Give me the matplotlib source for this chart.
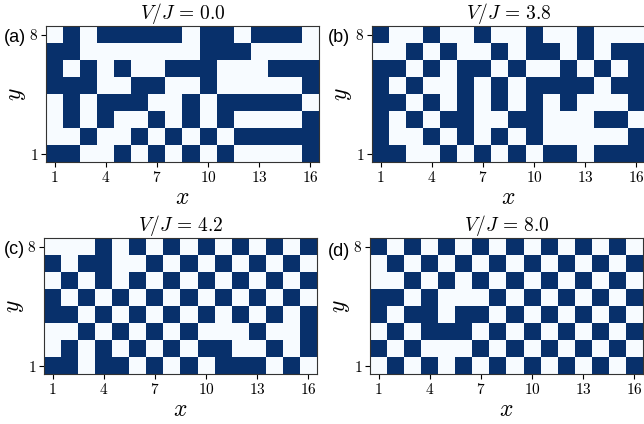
import numpy as np
import matplotlib
matplotlib.use("Agg")
import matplotlib.pyplot as plt
from matplotlib.ticker import FixedLocator, FixedFormatter

plt.rcParams['mathtext.fontset'] = 'cm'

titles = [r"$V/J\, =\, 0.0$", r"$V/J\, =\, 3.8$", r"$V/J\, =\, 4.2$", r"$V/J\, =\, 8.0$"]
panel_labels = ["(a)", "(b)", "(c)", "(d)"]

# rows listed from y=8 (top) down to y=1 (bottom); 1 = occupied (dark)
grid_a = [
    [0,1,0,1,1,1,1,1,0,1,1,0,1,1,1,0],
    [1,1,0,0,0,0,0,0,0,1,1,1,0,0,0,0],
    [1,0,1,0,1,0,0,1,1,1,0,0,0,1,1,1],
    [1,1,1,0,0,1,1,0,0,1,0,0,0,0,0,1],
    [0,1,0,1,1,1,0,0,1,0,1,1,1,1,1,0],
    [0,1,0,1,0,0,1,0,1,0,1,0,0,0,0,1],
    [0,0,1,0,0,1,0,1,0,1,0,1,1,1,1,1],
    [1,1,0,0,1,0,1,0,1,0,1,0,0,0,0,1],
]
grid_b = [
    [1,0,0,1,0,0,1,0,0,1,0,0,1,0,0,0],
    [0,0,1,0,1,0,0,1,0,1,1,0,1,0,1,1],
    [1,1,0,1,0,1,1,0,1,0,0,1,0,1,0,1],
    [1,0,1,0,0,1,0,1,0,1,1,1,1,0,1,1],
    [1,1,0,1,0,1,0,1,0,1,0,1,0,0,0,1],
    [1,0,1,0,1,1,0,0,1,1,0,0,0,1,1,0],
    [1,0,0,1,0,1,0,1,0,1,0,0,0,0,0,1],
    [1,1,0,0,1,0,1,0,1,0,1,1,0,1,1,1],
]
grid_c = [
    [0,0,0,1,0,1,0,1,0,1,0,1,0,1,0,1],
    [1,0,1,1,0,0,1,0,1,0,1,0,1,0,1,0],
    [0,1,0,1,0,1,0,1,0,1,0,1,0,1,0,1],
    [1,0,1,0,1,0,1,0,1,0,1,0,1,0,1,0],
    [1,1,0,1,0,1,0,1,0,1,0,1,0,1,0,1],
    [0,0,1,0,1,0,1,0,1,0,0,0,1,0,0,1],
    [0,1,0,1,0,1,0,1,0,1,1,0,0,1,0,1],
    [1,1,0,1,1,0,1,0,1,0,1,1,1,0,1,0],
]
grid_d = [
    [1,0,1,0,1,0,1,0,1,0,1,0,1,0,1,0],
    [0,1,0,1,0,1,0,1,0,1,0,1,0,1,0,1],
    [0,0,1,0,1,0,1,0,1,0,1,0,1,0,1,0],
    [1,1,0,1,0,0,0,1,0,1,0,1,0,1,0,1],
    [1,0,1,1,0,1,1,0,1,0,1,0,1,0,1,0],
    [0,1,0,1,1,1,0,1,0,1,0,1,0,1,0,1],
    [1,0,1,0,0,0,1,0,1,0,1,0,1,0,1,0],
    [0,1,0,1,0,1,0,1,0,1,0,1,0,1,0,1],
]
grids = [grid_a, grid_b, grid_c, grid_d]

x_ticks = [1, 4, 7, 10, 13, 16]
y_ticks = [1, 8]

W, H = 644, 424
fig = plt.figure(figsize=(W / 100, H / 100), dpi=100)

# axes boxes in pixels: left, top, width, height
boxes = [(46, 26, 273, 136), (372, 26, 273, 136),
         (44, 238, 273, 136), (370, 238, 273, 136)]
label_pos = [(4, 38), (328, 38), (4, 250), (328, 251)]

for grid, title, lab, (l, t, w, h), (lx, ly) in zip(grids, titles, panel_labels, boxes, label_pos):
    ax = fig.add_axes([l / W, 1 - (t + h) / H, w / W, h / H])
    arr = np.array(grid)[::-1]  # row index 0 -> y=1
    ax.imshow(arr, cmap='Blues', vmin=0, vmax=1, origin='lower',
              extent=[0.5, 16.5, 0.5, 8.5], interpolation='nearest', aspect='auto')
    ax.set_xlim(0.5, 16.5)
    ax.set_ylim(0.5, 8.5)
    ax.xaxis.set_major_locator(FixedLocator(x_ticks))
    ax.xaxis.set_major_formatter(FixedFormatter([r"$\mathsf{%d}$" % v for v in x_ticks]))
    ax.yaxis.set_major_locator(FixedLocator(y_ticks))
    ax.yaxis.set_major_formatter(FixedFormatter([r"$\mathsf{%d}$" % v for v in y_ticks]))
    ax.tick_params(labelsize=11, length=3.5, width=0.8, pad=2)
    ax.set_title(title, fontsize=14, pad=3)
    ax.set_xlabel("$x$", fontsize=17, labelpad=0)
    ax.set_ylabel("$y$", fontsize=17, labelpad=1)
    for s in ax.spines.values():
        s.set_color('#333333')
    fig.text(lx / W, 1 - ly / H, lab, fontsize=13, family='Liberation Sans',
             ha='left', va='center')

fig.savefig("out.png", dpi=100)
